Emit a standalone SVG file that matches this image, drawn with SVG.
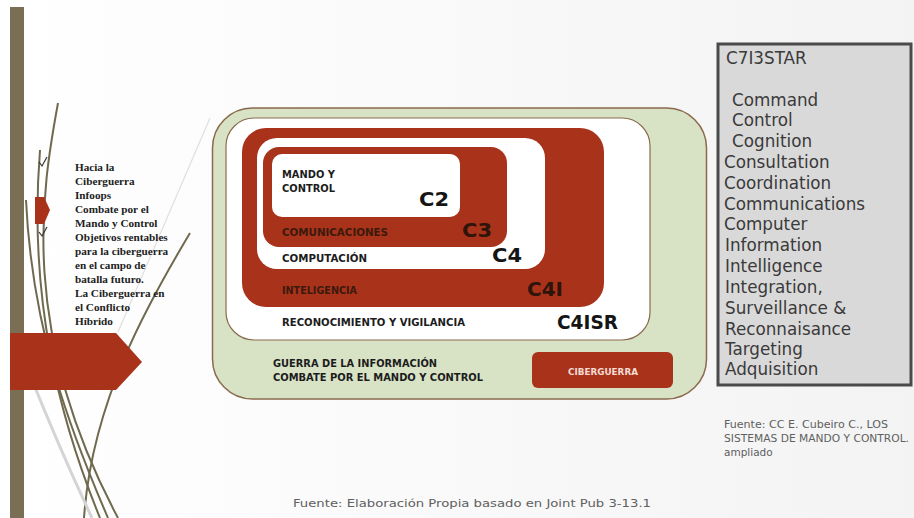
<svg xmlns="http://www.w3.org/2000/svg" width="914" height="518" viewBox="0 0 914 518">
<defs>
<linearGradient id="bg" x1="0" y1="0" x2="1" y2="0">
<stop offset="0" stop-color="#ffffff"/>
<stop offset="1" stop-color="#f3f3f3"/>
</linearGradient>
<style>
.lbl{font-family:"DejaVu Sans","Liberation Sans",sans-serif;font-weight:bold;font-size:10px;fill:#1c1c1c}
.lblr{font-family:"DejaVu Sans","Liberation Sans",sans-serif;font-weight:bold;font-size:10px;fill:#3b1a0e}
.big{font-family:"DejaVu Sans","Liberation Sans",sans-serif;font-weight:bold;font-size:19px;fill:#151515}
.bigr{font-family:"DejaVu Sans","Liberation Sans",sans-serif;font-weight:bold;font-size:19px;fill:#2e140a}
.red{fill:#a9321a}
.wht{fill:#ffffff}
.lst{font-family:"DejaVu Sans","Liberation Sans",sans-serif;font-size:16.8px;fill:#3a3a3a}
.src{font-family:"DejaVu Sans","Liberation Sans",sans-serif;font-size:10.5px;fill:#606060}
.side{font-family:"Liberation Serif","DejaVu Serif",serif;font-weight:bold;font-size:11.2px;fill:#222222}
.wisp{fill:none;stroke:#6f6a4f;stroke-width:2}
</style>
</defs>
<rect x="0" y="0" width="914" height="518" fill="url(#bg)"/>

<g id="decor">
<path d="M210 118 L118 332" stroke="#e0e0e0" stroke-width="1.2" fill="none"/>
<path d="M58 103 C42 190, 18 330, 118 518" class="wisp"/>
<path d="M26 200 C32 330, 70 430, 108 518" class="wisp"/>
<path d="M40 150 C28 300, 60 420, 100 518" class="wisp" stroke-width="1.5"/>
<path d="M190 233 C150 300, 92 400, 84 518" class="wisp" stroke-width="1.3"/>
<path d="M28 370 Q60 450, 92 518" stroke="#d4d4d4" stroke-width="3" fill="none"/>
<rect x="10" y="7" width="14" height="511" fill="#7a6e55"/>
<polygon points="10,333 116,333 142,362 116,390 10,390" class="red"/>
<polygon points="35,197 44,197 50,210 44,224 35,224" class="red"/>
<path d="M39 162 L42 166 L47 157" stroke="#333" stroke-width="1.2" fill="none"/>
<path d="M39 232 L42 236 L47 227" stroke="#333" stroke-width="1.2" fill="none"/>
</g>

<g id="side-text">
<text class="side" x="75" y="171">Hacia la</text>
<text class="side" x="75" y="185">Ciberguerra</text>
<text class="side" x="75" y="199">Infoops</text>
<text class="side" x="75" y="213">Combate por el</text>
<text class="side" x="75" y="227">Mando y Control</text>
<text class="side" x="75" y="241">Objetivos rentables</text>
<text class="side" x="75" y="255">para la ciberguerra</text>
<text class="side" x="75" y="269">en el campo de</text>
<text class="side" x="75" y="283">batalla futuro.</text>
<text class="side" x="75" y="297"> La Ciberguerra en</text>
<text class="side" x="75" y="311">el Conflicto</text>
<text class="side" x="75" y="325">Híbrido</text>
</g>

<g id="guerra-info">
<rect x="212.5" y="108" width="494" height="291" rx="40" fill="#d8e3c6" stroke="#8a6a4c" stroke-width="1.5"/>
<text class="lbl" x="273" y="367" textLength="164" lengthAdjust="spacingAndGlyphs">GUERRA DE LA INFORMACIÓN</text>
<text class="lbl" x="273" y="381" textLength="210" lengthAdjust="spacingAndGlyphs">COMBATE POR EL MANDO Y CONTROL</text>
</g>

<g id="c4isr">
<rect x="226" y="118" width="424" height="222" rx="28" fill="#ffffff" stroke="#8a6a4c" stroke-width="1.2"/>
<text class="lbl" x="282" y="326" textLength="183" lengthAdjust="spacingAndGlyphs">RECONOCIMIENTO Y VIGILANCIA</text>
<text class="big" x="557" y="329" font-size="21" textLength="61" lengthAdjust="spacingAndGlyphs">C4ISR</text>
</g>

<g id="c4i">
<rect x="242" y="128" width="362" height="179" rx="24" class="red"/>
<text class="lblr" x="282" y="294" textLength="75" lengthAdjust="spacingAndGlyphs">INTELIGENCIA</text>
<text class="bigr" x="527" y="296" textLength="36" lengthAdjust="spacingAndGlyphs">C4I</text>
</g>

<g id="c4">
<rect x="257" y="138" width="288" height="131" rx="20" class="wht"/>
<text class="lbl" x="282" y="262" textLength="85" lengthAdjust="spacingAndGlyphs">COMPUTACIÓN</text>
<text class="big" x="492" y="262" textLength="30" lengthAdjust="spacingAndGlyphs">C4</text>
</g>

<g id="c3">
<rect x="263" y="147" width="244" height="100" rx="16" class="red"/>
<text class="lblr" x="282" y="236" textLength="106" lengthAdjust="spacingAndGlyphs">COMUNICACIONES</text>
<text class="bigr" x="462" y="237" textLength="30" lengthAdjust="spacingAndGlyphs">C3</text>
</g>

<g id="c2">
<rect x="272" y="154" width="188" height="63" rx="10" class="wht"/>
<text class="lbl" x="282" y="178" textLength="53" lengthAdjust="spacingAndGlyphs">MANDO Y</text>
<text class="lbl" x="282" y="192" textLength="53" lengthAdjust="spacingAndGlyphs">CONTROL</text>
<text class="big" x="419" y="206" textLength="30" lengthAdjust="spacingAndGlyphs">C2</text>
</g>

<g id="ciberguerra">
<rect x="532" y="352" width="141" height="36" rx="6" class="red"/>
<text x="603" y="375" text-anchor="middle" font-family="DejaVu Sans, Liberation Sans, sans-serif" font-weight="bold" font-size="8.5" fill="#f4dcd4" textLength="70" lengthAdjust="spacingAndGlyphs">CIBERGUERRA</text>
</g>

<g id="c7i3star">
<rect x="718" y="44" width="193" height="341" fill="#d9d9d9" stroke="#4a4a4a" stroke-width="3"/>
<text class="lst" x="726" y="64" font-size="15.5">C7I3STAR</text>
<text class="lst" x="732" y="106">Command</text>
<text class="lst" x="732" y="126">Control</text>
<text class="lst" x="732" y="147">Cognition</text>
<text class="lst" x="724" y="168">Consultation</text>
<text class="lst" x="724" y="189">Coordination</text>
<text class="lst" x="724" y="210">Communications</text>
<text class="lst" x="724" y="230">Computer</text>
<text class="lst" x="725" y="251">Information</text>
<text class="lst" x="725" y="272">Intelligence</text>
<text class="lst" x="725" y="293">Integration,</text>
<text class="lst" x="725" y="314">Surveillance &amp;</text>
<text class="lst" x="725" y="335">Reconnaisance</text>
<text class="lst" x="725" y="355">Targeting</text>
<text class="lst" x="725" y="375">Adquisition</text>
</g>

<g id="sources">
<text class="src" x="724" y="428" textLength="164" lengthAdjust="spacingAndGlyphs">Fuente: CC E. Cubeiro C., LOS</text>
<text class="src" x="724" y="442" textLength="185" lengthAdjust="spacingAndGlyphs">SISTEMAS DE MANDO Y CONTROL.</text>
<text class="src" x="724" y="456">ampliado</text>
<text class="src" x="293" y="507" font-size="13" textLength="358" lengthAdjust="spacingAndGlyphs">Fuente: Elaboración Propia basado en Joint Pub 3-13.1</text>
</g>

<g id="connectors"></g>
</svg>
